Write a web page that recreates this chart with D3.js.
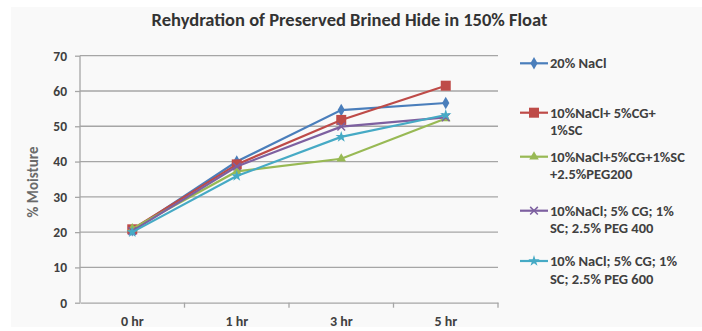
<!DOCTYPE html>
<html><head><meta charset="utf-8">
<script src="https://cdn.jsdelivr.net/npm/d3@7"></script>
<style>body{margin:0;background:#fff}svg{display:block}text{font-family:Carlito,"Liberation Sans",Arial,sans-serif}</style>
</head><body><svg id="c" width="702" height="331"></svg>
<script>
const categories = ["0 hr","1 hr","3 hr","5 hr"];
const seriesNames = [
  ["20% NaCl"],
  ["10%NaCl+ 5%CG+","1%SC"],
  ["10%NaCl+5%CG+1%SC","+2.5%PEG200"],
  ["10%NaCl; 5% CG; 1%","SC; 2.5% PEG 400"],
  ["10% NaCl; 5% CG; 1%","SC; 2.5% PEG 600"]
];
const s1 = [20.5, 40.0, 54.6, 56.6];
const s2 = [20.8, 39.2, 51.8, 61.5];
const s3 = [21.0, 37.2, 40.8, 52.2];
const s4 = [20.3, 38.6, 49.9, 52.5];
const s5 = [20.0, 35.9, 47.0, 53.2];
const yTicks = [0,10,20,30,40,50,60,70];
const colors = ["#4a7ebb","#be4b48","#98b954","#7d60a0","#46aac5"];
const markers = ["diamond","square","triangle","cross","star"];
const series = [s1,s2,s3,s4,s5];

const svg = d3.select("#c");
svg.append("rect").attr("x",11).attr("y",7).attr("width",691).attr("height",320).attr("fill","#f9f9f9");

const x = d3.scaleBand().domain(categories).range([80,498]);
const y = d3.scaleLinear().domain([0,70]).range([302.7,55.7]);

svg.append("g").selectAll("line").data(yTicks.filter(d=>d>0)).join("line")
  .attr("x1",80).attr("x2",498).attr("y1",d=>y(d)).attr("y2",d=>y(d))
  .attr("stroke","#a6a6a6").attr("stroke-width",1.3);

const ya = svg.append("g").attr("transform","translate(80,0)")
  .call(d3.axisLeft(y).tickValues(yTicks).tickSize(5).tickPadding(8).tickFormat(d3.format("d")));
ya.select(".domain").attr("stroke","#a6a6a6").attr("stroke-width",1.3).attr("d","M0,55.7V302.7");
ya.selectAll(".tick line").attr("stroke","#a6a6a6").attr("stroke-width",1.3);
ya.selectAll("text").attr("font-size",13.5).attr("font-weight","bold").attr("fill","#404040");

const xa = svg.append("g").attr("transform","translate(0,302.7)")
  .call(d3.axisBottom(x).tickSize(0).tickPadding(13));
xa.select(".domain").attr("stroke","#a6a6a6").attr("stroke-width",1.3);
xa.selectAll("text").attr("font-size",14).attr("font-weight","bold").attr("fill","#404040");
svg.append("g").selectAll("line").data(categories).join("line")
  .attr("x1",d=>x(d)+x.bandwidth()).attr("x2",d=>x(d)+x.bandwidth())
  .attr("y1",302.7).attr("y2",307.7).attr("stroke","#a6a6a6").attr("stroke-width",1.3);

svg.append("text").attr("x",349.5).attr("y",26).attr("text-anchor","middle")
  .attr("font-size",18.5).attr("font-weight","bold").attr("fill","#333")
  .text("Rehydration of Preserved Brined Hide in 150% Float");
svg.append("text").attr("transform","translate(38,182) rotate(-90)").attr("text-anchor","middle")
  .attr("font-size",15).attr("font-weight","bold").attr("fill","#6a6a6a").text("% Moisture");

function marker(g,type,cx,cy,col){
  if(type==="diamond") g.append("path").attr("d",d3.symbol(d3.symbolDiamond,45)()).attr("transform",`translate(${cx},${cy})`).attr("fill",col);
  else if(type==="square") g.append("rect").attr("x",cx-5).attr("y",cy-5).attr("width",10).attr("height",10).attr("fill",col);
  else if(type==="triangle") g.append("path").attr("d",d3.symbol(d3.symbolTriangle,40)()).attr("transform",`translate(${cx},${cy})`).attr("fill",col);
  else if(type==="cross") g.append("path").attr("d",d3.symbol(d3.symbolX,40)()).attr("transform",`translate(${cx},${cy})`).attr("fill","none").attr("stroke",col).attr("stroke-width",1.5);
  else g.append("path").attr("d",d3.symbol(d3.symbolStar,40)()).attr("transform",`translate(${cx},${cy})`).attr("fill",col);
}

const line = d3.line().x((d,i)=>x(categories[i])+x.bandwidth()/2).y(d=>y(d));
series.forEach((s,k)=>{
  const g = svg.append("g");
  g.append("path").attr("d",line(s)).attr("fill","none").attr("stroke",colors[k]).attr("stroke-width",2.2);
  s.forEach((v,i)=>marker(g,markers[k],x(categories[i])+x.bandwidth()/2,y(v),colors[k]));
});

const legY = [63.3,112.7,156.7,210.7,261];
seriesNames.forEach((lines,k)=>{
  const g = svg.append("g");
  g.append("line").attr("x1",520).attr("x2",548).attr("y1",legY[k]).attr("y2",legY[k]).attr("stroke",colors[k]).attr("stroke-width",2.2);
  marker(g,markers[k],534,legY[k],colors[k]);
  lines.forEach((t,j)=>g.append("text").attr("x",550).attr("y",legY[k]+5+j*17.5)
    .attr("font-size",14.5).attr("font-weight","bold").attr("fill","#404040").text(t));
});
</script></body></html>
